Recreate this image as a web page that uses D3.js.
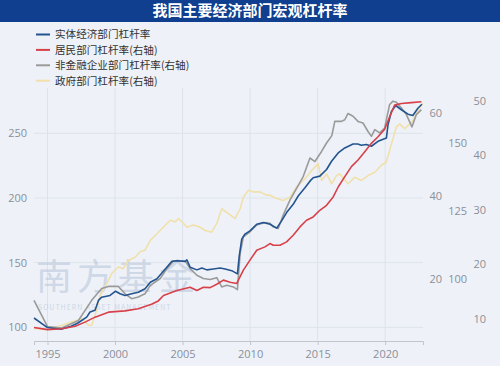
<!DOCTYPE html>
<html><head><meta charset="utf-8">
<script src="https://cdn.jsdelivr.net/npm/d3@7"></script>
<style>
html,body{margin:0;padding:0;background:#eef2f8;}
svg{display:block;font-family:"Noto Sans CJK SC","Noto Sans",sans-serif;}
</style></head><body>
<script>
const title = "我国主要经济部门宏观杠杆率";
const seriesNames = ["实体经济部门杠杆率","居民部门杠杆率(右轴)","非金融企业部门杠杆率(右轴)","政府部门杠杆率(右轴)"];
const xTicks = [1995,2000,2005,2010,2015,2020];
const leftTicks = [100,150,200,250];
const hhTicks = [20,40,60];
const corpTicks = [100,125,150];
const govTicks = [10,20,30,40,50];

const realYears = [1994.0,1995.0,1996.0,1996.75,1997.25,1997.9,1998.15,1998.52,1998.77,1999.01,1999.63,2000.04,2000.37,2000.74,2001.23,2001.72,2002.22,2002.61,2003.1,2003.72,2004.21,2004.58,2005.19,2005.32,2005.56,2006.06,2006.43,2006.8,2007.28,2007.78,2008.15,2008.64,2009.06,2009.2,2009.38,2009.62,2009.99,2010.49,2010.98,2011.47,2011.97,2012.33,2012.7,2013.19,2013.56,2014.06,2014.43,2014.67,2015.16,2015.66,2016.03,2016.52,2017.01,2017.62,2017.97,2018.24,2018.61,2018.98,2019.47,2020.09,2020.21,2020.46,2020.78,2021.2,2021.69,2022.05,2022.42,2022.72];
const realVals = [107.2,99.8,98.5,100.8,103.3,107.9,111.8,113.1,120.8,123.3,124.6,127.9,125.9,124.6,125.9,127.1,129.8,134.8,137.5,145.1,151.0,151.5,151.0,152.1,146.4,144.4,145.9,144.4,145.1,145.9,145.1,143.8,141.3,155.4,168.2,172.1,174.6,179.7,181.0,179.7,176.7,182.3,188.7,195.1,201.5,207.9,213.0,215.6,216.9,222.0,228.4,234.8,238.7,241.7,241.7,240.7,241.3,240.0,243.8,246.3,256.6,266.9,271.5,268.2,264.8,263.8,269.4,272.5];

const hhYears = [1994.0,1995.0,1996.06,1997.05,1997.78,1998.52,1999.51,2000.74,2001.72,2002.7,2003.2,2003.59,2004.58,2005.56,2006.06,2006.54,2007.04,2007.53,2008.02,2008.52,2009.01,2009.5,2009.99,2010.49,2011.1,2011.47,2011.71,2012.21,2012.7,2013.19,2013.69,2014.18,2014.67,2015.16,2015.66,2016.15,2016.52,2017.01,2017.5,2017.99,2018.49,2018.98,2019.47,2019.96,2020.33,2020.7,2021.2,2021.94,2022.68];
const hhVals = [8.4,7.9,8.1,8.7,9.7,10.9,12.1,12.4,12.9,14.0,14.8,16.1,17.3,18.1,17.3,18.1,18.0,18.8,19.8,19.3,19.0,22.2,24.6,27.0,27.8,28.6,28.2,28.2,29.0,30.6,32.6,34.2,35.0,36.6,37.8,39.8,42.2,44.7,47.1,48.7,50.7,52.7,54.3,56.1,59.1,61.9,62.3,62.5,62.7];

const corpYears = [1994.0,1995.0,1996.06,1997.29,1998.27,1999.01,1999.51,2000.24,2000.74,2001.23,2001.72,2002.22,2002.61,2003.35,2003.84,2004.33,2005.19,2005.56,2006.06,2006.54,2007.04,2007.53,2007.9,2008.27,2008.76,2009.06,2009.26,2009.5,2009.99,2010.49,2011.1,2011.47,2011.71,2012.08,2012.45,2012.95,2013.44,2013.93,2014.43,2014.8,2015.29,2015.66,2016.05,2016.27,2016.77,2017.01,2017.25,2017.62,2017.99,2018.36,2018.73,2018.98,2019.23,2019.6,2019.96,2020.33,2020.58,2020.83,2021.2,2021.57,2021.98,2022.31,2022.68];
const corpVals = [92.3,82.7,82.2,84.9,92.3,96.6,97.4,97.4,94.7,92.9,93.5,94.7,97.8,100.3,103.9,106.7,106.7,103.9,101.5,100.3,99.9,100.6,97.2,97.8,97.2,96.2,109.4,115.5,117.4,119.9,120.8,120.5,119.2,118.6,123.5,129.0,133.3,137.6,144.4,143.1,146.8,149.9,152.6,157.8,157.8,158.4,160.7,159.7,157.8,157.2,154.1,152.3,154.8,153.6,155.4,164.0,165.2,164.8,162.7,160.3,155.8,160.3,162.1];

const govYears = [1994.0,1995.0,1996.06,1996.79,1997.53,1998.03,1998.27,1998.52,1998.89,1999.26,1999.75,2000.24,2000.61,2000.98,2001.48,2001.85,2002.22,2002.61,2003.1,2003.84,2004.08,2004.45,2004.7,2005.07,2005.32,2005.81,2006.3,2006.67,2007.16,2007.53,2007.9,2008.39,2008.89,2009.26,2009.5,2009.87,2010.24,2010.73,2011.23,2011.47,2011.97,2012.45,2012.95,2013.44,2014.06,2014.55,2015.04,2015.29,2015.66,2016.03,2016.4,2016.64,2017.25,2017.75,2018.24,2018.73,2019.23,2019.72,2020.09,2020.46,2020.83,2021.07,2021.44,2021.81,2022.05,2022.42,2022.79];
const govVals = [8.2,8.0,8.8,9.4,10.0,8.8,8.8,10.6,14.3,15.8,18.3,19.5,19.2,20.7,21.3,22.3,22.6,24.4,25.6,27.5,28.1,27.8,28.4,27.5,26.8,27.2,26.8,26.2,25.9,27.5,30.2,29.3,28.4,30.2,32.3,33.6,33.3,33.3,32.7,32.7,32.1,31.7,32.3,34.2,35.7,37.2,38.5,35.4,36.6,34.8,36.3,36.6,34.8,36.0,35.4,36.3,36.9,38.2,38.8,42.1,45.2,45.8,44.9,45.8,46.4,48.3,49.6];

const colors = ["#24548f","#d8404a","#9a9a9a","#f1e0aa"];

const W = 500, H = 366;
const svg = d3.select("body").append("svg").attr("width",W).attr("height",H);
svg.append("rect").attr("width",W).attr("height",H).attr("fill","#eef2f8");
svg.append("rect").attr("width",W).attr("height",22).attr("fill","#0f3f8e");
svg.append("text").attr("x",250).attr("y",16).attr("text-anchor","middle")
  .attr("fill","#fff").attr("font-size",15).attr("font-weight","bold").text(title);

const x = d3.scaleLinear().domain([1994,2022.8]).range([34,423]);
const yL = d3.scaleLinear().domain([100,250]).range([327.3,133.3]);
const yH = d3.scaleLinear().domain([20,60]).range([279.3,113]);
const yC = d3.scaleLinear().domain([100,150]).range([279.3,142.7]);
const yG = d3.scaleLinear().domain([10,50]).range([318.7,101]);
const plotTop = 88, plotBottom = 341;

// grid
const g = svg.append("g");
g.selectAll(".hg").data(leftTicks).enter().append("line")
  .attr("x1",34).attr("x2",423).attr("y1",d=>yL(d)).attr("y2",d=>yL(d))
  .attr("stroke","#dde3ec").attr("stroke-width",1);
g.selectAll(".vg").data(xTicks).enter().append("line")
  .attr("x1",d=>x(d)).attr("x2",d=>x(d)).attr("y1",plotTop).attr("y2",plotBottom)
  .attr("stroke","#dde3ec").attr("stroke-width",1);

// watermark
const wm = svg.append("g").attr("opacity",0.6);
wm.append("text").attr("x",36).attr("y",290).attr("font-size",36).attr("fill","#b9c7dc")
  .attr("letter-spacing",5).text("南方基金");
wm.append("text").attr("x",38).attr("y",309.5).attr("font-size",7).attr("fill","#b9c7dc")
  .attr("letter-spacing",1).text("SOUTHERN ASSET MANAGEMENT");

// x axis
const xAxis = svg.append("g").attr("transform",`translate(0,${plotBottom})`)
  .call(d3.axisBottom(x).tickValues(xTicks).tickFormat(d3.format("d")).tickSize(4).tickPadding(5));
xAxis.select(".domain").attr("stroke","#bfc6d0");
xAxis.selectAll(".tick line").attr("stroke","#bfc6d0");
xAxis.selectAll("text").attr("fill","#8a8f98").attr("font-size",11).attr("font-family","'Open Sans',sans-serif");

function vAxis(scale, ticks, xpos){
  const a = svg.append("g").attr("transform",`translate(${xpos},0)`)
    .call(d3.axisLeft(scale).tickValues(ticks).tickSize(0).tickPadding(0));
  a.select(".domain").remove();
  a.selectAll("text").attr("fill","#8a8f98").attr("font-size",11).attr("font-family","'Open Sans',sans-serif");
}
vAxis(yL, leftTicks, 27);
vAxis(yH, hhTicks, 442);
vAxis(yC, corpTicks, 467);
vAxis(yG, govTicks, 486);

// lines
function drawLine(years, vals, scale, color){
  const pts = years.map((t,i)=>[t, vals[i]]);
  svg.append("path").datum(pts)
    .attr("d", d3.line().x(d=>x(d[0])).y(d=>scale(d[1])))
    .attr("fill","none").attr("stroke",color).attr("stroke-width",1.6)
    .attr("stroke-linejoin","round");
}
drawLine(govYears, govVals, yG, colors[3]);
drawLine(corpYears, corpVals, yC, colors[2]);
drawLine(realYears, realVals, yL, colors[0]);
drawLine(hhYears, hhVals, yH, colors[1]);

// legend
const leg = svg.append("g");
seriesNames.forEach((n,i)=>{
  const yy = 34.5 + i*15.4;
  leg.append("line").attr("x1",36).attr("x2",50).attr("y1",yy).attr("y2",yy)
    .attr("stroke",colors[i]).attr("stroke-width",2);
  leg.append("text").attr("x",55).attr("y",yy+3.9).attr("font-size",10.6)
    .attr("fill","#333").text(n);
});
</script>
</body></html>
